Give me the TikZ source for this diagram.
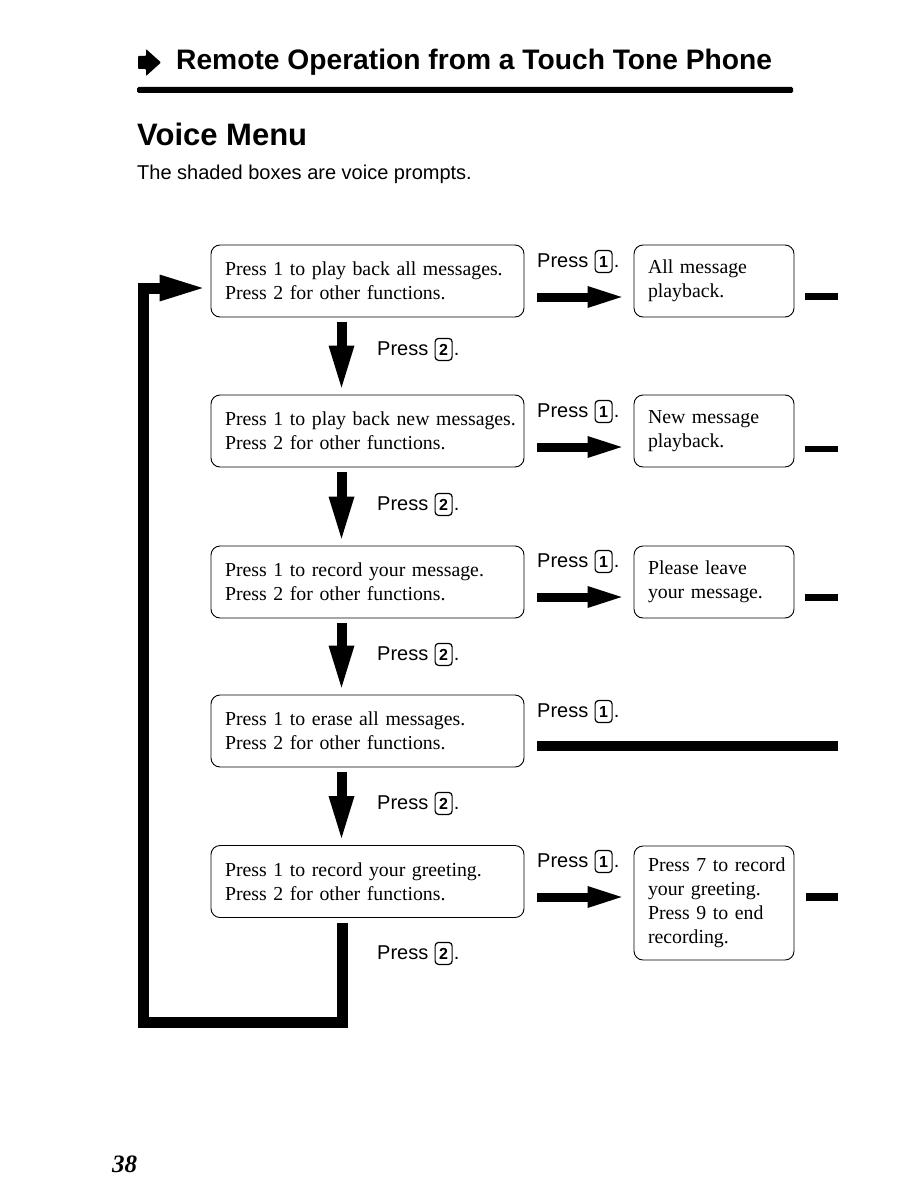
\documentclass[tikz,border=0pt]{standalone}
\usepackage{fontspec}
\setmainfont{Liberation Serif}
\setsansfont{Liberation Sans}
\usetikzlibrary{arrows.meta}

\newcommand\presskey[4]{%
  \node[lbl,anchor=base west] (#1p) at (#2,#3) {Press};
  \node[keycap,anchor=base west] (#1k) at ([xshift=6pt]#1p.base east) {#4};
  \node[lbl,anchor=base west] (#1d) at ([xshift=1pt]#1k.base east) {.};
}

\begin{document}
\begin{tikzpicture}[x=1pt,y=-1pt,
  lbox/.style={draw, line width=0.9pt, rounded corners=9pt, minimum width=313pt,
    minimum height=72pt, text width=285pt, inner xsep=14pt, align=left,
    font=\fontsize{19.8}{24}\selectfont},
  rbox/.style={lbox, minimum width=160pt, text width=132pt},
  lbl/.style={font=\sffamily\fontsize{20}{24}\selectfont, inner sep=0pt},
  keycap/.style={draw, line width=1.2pt, rounded corners=3.5pt,
    font=\sffamily\bfseries\fontsize{16}{18}\selectfont, inner sep=0pt,
    minimum width=17pt, minimum height=22pt},
  rarrow/.style={line width=9pt, -{Triangle[length=34pt,width=22pt,line width=0pt]}},
  darrow/.style={line width=10pt, -{Triangle[length=42pt,width=26pt,line width=0pt]}},
  loopline/.style={line width=11pt, miter limit=10,
    -{Triangle[length=43pt,width=27pt,line width=0pt]}},
  bar/.style={line width=10pt},
  stub/.style={fill=black},
]
\useasboundingbox (0,0) rectangle (918,1188);

% header
\fill[rounded corners=0.8pt] (138,56) -- (146,56) -- (146,49) -- (161,62.5) -- (146,76) -- (146,69) -- (138,69) -- cycle;
\node[anchor=base west, inner sep=0pt, font=\sffamily\bfseries\fontsize{28.2}{32}\selectfont] (title) at (176,70) {Remote Operation from a Touch Tone Phone};
\fill[rounded corners=1.5pt] (137,87) rectangle (793,93);
\node[anchor=base west, inner sep=0pt, font=\sffamily\bfseries\fontsize{31}{36}\selectfont] (vm) at (137,146) {Voice Menu};
\node[anchor=base west, inner sep=0pt, font=\sffamily\fontsize{20}{24}\selectfont] (sub) at (137,179) {The shaded boxes are voice prompts.};

% left boxes
\node[lbox] (l1) at (367.5,281) {\mbox{Press 1 to play back all messages.}\\\mbox{Press 2 for other functions.}};
\node[lbox] (l2) at (367.5,431) {\mbox{Press 1 to play back new messages.}\\\mbox{Press 2 for other functions.}};
\node[lbox] (l3) at (367.5,582) {\mbox{Press 1 to record your message.}\\\mbox{Press 2 for other functions.}};
\node[lbox] (l4) at (367.5,731) {\mbox{Press 1 to erase all messages.}\\\mbox{Press 2 for other functions.}};
\node[lbox] (l5) at (367.5,881.5) {\mbox{Press 1 to record your greeting.}\\\mbox{Press 2 for other functions.}};

% right boxes
\node[rbox] (r1) at (714,281) {\mbox{All message}\\\mbox{playback.}};
\node[rbox] (r2) at (714,431) {\mbox{New message}\\\mbox{playback.}};
\node[rbox] (r3) at (714,582) {\mbox{Please leave}\\\mbox{your message.}};
\node[rbox, minimum height=114pt] (r5) at (714,903) {\mbox{Press 7 to record}\\\mbox{your greeting.}\\\mbox{Press 9 to end}\\\mbox{recording.}};

% down arrows
\draw[darrow] ([shift={(-26,5)}]l1.south) -- ([shift={(-26,-7)}]l2.north);
\draw[darrow] ([shift={(-26,5)}]l2.south) -- ([shift={(-26,-7)}]l3.north);
\draw[darrow] ([shift={(-26,5)}]l3.south) -- ([shift={(-26,-7)}]l4.north);
\draw[darrow] ([shift={(-26,5)}]l4.south) -- ([shift={(-26,-7)}]l5.north);

% right arrows
\draw[rarrow] ([shift={(13,16)}]l1.east) -- ([shift={(-12,16)}]r1.west);
\draw[rarrow] ([shift={(13,16)}]l2.east) -- ([shift={(-12,16)}]r2.west);
\draw[rarrow] ([shift={(13,15)}]l3.east) -- ([shift={(-12,15)}]r3.west);
\draw[rarrow] ([shift={(13,15.5)}]l5.east) -- ([shift={(-12,-6)}]r5.west);
\draw[bar] ([shift={(13,15)}]l4.east) -- ++(301,0);

% stubs
\fill[stub] ([shift={(11,12)}]r1.east) rectangle ++(33,7);
\fill[stub] ([shift={(11,15)}]r2.east) rectangle ++(33,6);
\fill[stub] ([shift={(11,12)}]r3.east) rectangle ++(33,7);
\fill[stub] ([shift={(12,-10)}]r5.east) rectangle ++(32,8);

% loop back
\coordinate (lb) at (342,1022);
\coordinate (lc) at (143,1022);
\coordinate (ld) at (143,288);
\draw[loopline] ([shift={(-25.5,5)}]l5.south) -- (lb) -- (lc) -- (ld) -- ([shift={(-8,7)}]l1.west);

% labels
\presskey{a}{537}{267}{1}
\presskey{b}{537}{417}{1}
\presskey{c}{537}{567}{1}
\presskey{d}{537}{717}{1}
\presskey{e}{537}{867}{1}
\presskey{f}{377}{355}{2}
\presskey{g}{377}{510}{2}
\presskey{h}{377}{660}{2}
\presskey{i}{377}{809}{2}
\presskey{j}{377}{959}{2}

\node[anchor=base west, inner sep=0pt, font=\bfseries\itshape\fontsize{25}{30}\selectfont] (pg) at (112,1172) {38};
\end{tikzpicture}
\end{document}
